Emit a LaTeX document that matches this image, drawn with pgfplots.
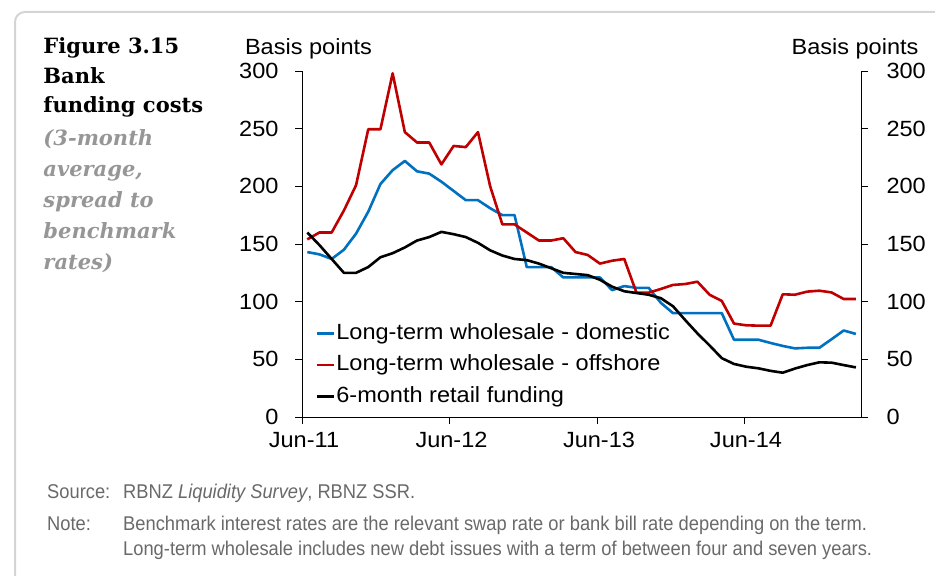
\documentclass[border=0pt]{standalone}
\usepackage{pgfplots}
\usepackage{pgfplotstable}
\pgfplotsset{compat=1.18}
\usepackage{fontspec}
\setmainfont{Liberation Sans}[FakeStretch=1.07]
\newfontfamily\titlefont{DejaVu Serif}
\newfontfamily\notefont{Liberation Sans}[FakeStretch=0.92]
\definecolor{rbblue}{RGB}{0,112,192}
\definecolor{rbred}{RGB}{192,0,0}
\definecolor{titlegray}{RGB}{150,150,150}
\definecolor{notegray}{RGB}{105,105,105}
\definecolor{framegray}{RGB}{212,212,212}

\pgfplotstableread{
k blue red black
0 143 154 160
1 141 160 149
2 137 160 137
3 145 179 125
4 159 201 125
5 178 249.5 130
6 202 249.5 138.5
7 214 298 142
8 222 247 147
9 213 238 153
10 211 238 156
11 204 219 160.5
12 196 235 158.5
13 188 234 156
14 188 247 151
15 181 200 144.5
16 175 167 140
17 175 167 137
18 130 160 136
19 130 153 133
20 130 153 129
21 121 155 125
22 121 143 124
23 121 140.5 123
24 121 133 119
25 110 135.5 113
26 113.5 137 109
27 112 107.8 107.5
28 112 107.8 106
29 99 111 103
30 90 114.5 96
31 90 115.3 84
32 90 117.3 72.5
33 90 106 62
34 90 100.6 51
35 67 81 46
36 67 79.5 43.6
37 67 79.2 42.2
38 64.2 79.2 40
39 61.6 106.4 38.4
40 59.5 106 42
41 60 108.7 45
42 60 109.5 47.4
43 67.4 108 47.1
44 75 102.3 45
45 72 102.3 43
}\datatable

\newcommand{\chartfont}{\fontsize{22bp}{26bp}\selectfont}
\newcommand{\titlesize}{\fontsize{21bp}{25bp}\selectfont}
\newcommand{\notesize}{\fontsize{19.9bp}{23bp}\selectfont}

\begin{document}
\begin{tikzpicture}[x=1bp,y=1bp]
\path[use as bounding box] (0,0) rectangle (935,576);
\draw[framegray, line width=2bp, rounded corners=10bp] (15,-10) -- (15,564) -- (950,564);

% title block
\node[anchor=base west, inner sep=0pt, font=\titlefont\bfseries\titlesize] at (43.3,522) {Figure 3.15};
\node[anchor=base west, inner sep=0pt, font=\titlefont\bfseries\titlesize] at (43.3,492.7) {Bank};
\node[anchor=base west, inner sep=0pt, font=\titlefont\bfseries\titlesize] at (43.3,463.7) {funding costs};
\node[anchor=base west, inner sep=0pt, text=titlegray, font=\titlefont\bfseries\itshape\titlesize] at (43.3,430.3) {(3-month};
\node[anchor=base west, inner sep=0pt, text=titlegray, font=\titlefont\bfseries\itshape\titlesize] at (43.3,399.3) {average,};
\node[anchor=base west, inner sep=0pt, text=titlegray, font=\titlefont\bfseries\itshape\titlesize] at (43.3,368.3) {spread to};
\node[anchor=base west, inner sep=0pt, text=titlegray, font=\titlefont\bfseries\itshape\titlesize] at (43.3,337.3) {benchmark};
\node[anchor=base west, inner sep=0pt, text=titlegray, font=\titlefont\bfseries\itshape\titlesize] at (43.3,306.3) {rates)};

% unit labels
\node[anchor=base, inner sep=0pt, font=\chartfont] at (308.5,521) {Basis points};
\node[anchor=base, inner sep=0pt, font=\chartfont] at (855,521) {Basis points};

% source and note
\node[anchor=base west, inner sep=0pt, text=notegray, font=\notefont\notesize] at (47,77) {Source:};
\node[anchor=base west, inner sep=0pt, text=notegray, font=\notefont\notesize] at (123,77) {RBNZ \textit{Liquidity Survey}, RBNZ SSR.};
\node[anchor=base west, inner sep=0pt, text=notegray, font=\notefont\notesize] at (47,45) {Note:};
\node[anchor=base west, inner sep=0pt, text=notegray, font=\notefont\notesize] at (123,45) {Benchmark interest rates are the relevant swap rate or bank bill rate depending on the term.};
\node[anchor=base west, inner sep=0pt, text=notegray, font=\notefont\notesize] at (123,20) {Long-term wholesale includes new debt issues with a term of between four and seven years.};

\begin{axis}[
  at={(302bp,159bp)}, anchor=south west,
  scale only axis, width=559bp, height=346bp,
  xmin=-0.435, xmax=45.42, ymin=0, ymax=300,
  axis x line*=bottom, axis y line*=left,
  axis line style={line width=0.8bp},
  tick align=outside, major tick length=7bp,
  tick style={black, line width=0.8bp},
  xtick={-0.435,11.665,23.765,35.82},
  xticklabels={Jun-11,Jun-12,Jun-13,Jun-14},
  ytick={0,50,100,150,200,250,300},
  yticklabels={0,50,100,150,200,250,300},
  ticklabel style={font=\chartfont},
  yticklabel style={xshift=-13bp},
  xticklabel style={yshift=-5bp, xshift=2bp},
  legend cell align=left,
  legend style={at={(0.0233,0.276)}, anchor=north west, draw=none, fill=none,
    inner sep=0pt, row sep=7.5bp, column sep=0pt, font=\chartfont,
    nodes={inner sep=1.5bp, text height=16bp, text depth=5bp}},
  legend image code/.code={\draw[#1, line width=2.6bp] (-1bp,0bp) -- (16bp,0bp);},
  every axis plot/.append style={line width=2.6bp, line join=round},
]
\addplot[rbblue, mark=none] table[x=k, y=blue] {\datatable};
\addlegendentry{Long-term wholesale - domestic}
\addplot[rbred, mark=none] table[x=k, y=red] {\datatable};
\addlegendentry{Long-term wholesale - offshore}
\addplot[black, mark=none] table[x=k, y=black] {\datatable};
\addlegendentry{6-month retail funding}
\end{axis}

\begin{axis}[
  at={(302bp,159bp)}, anchor=south west,
  scale only axis, width=559bp, height=346bp,
  xmin=-0.435, xmax=45.42, ymin=0, ymax=300,
  axis x line=none, axis y line*=right,
  axis line style={line width=0.8bp},
  tick align=outside, major tick length=7bp,
  tick style={black, line width=0.8bp},
  ytick={0,50,100,150,200,250,300},
  yticklabels={0,50,100,150,200,250,300},
  ticklabel style={font=\chartfont},
  yticklabel style={xshift=15bp},
]
\addplot[draw=none] coordinates {(0,0)};
\end{axis}
\end{tikzpicture}
\end{document}
